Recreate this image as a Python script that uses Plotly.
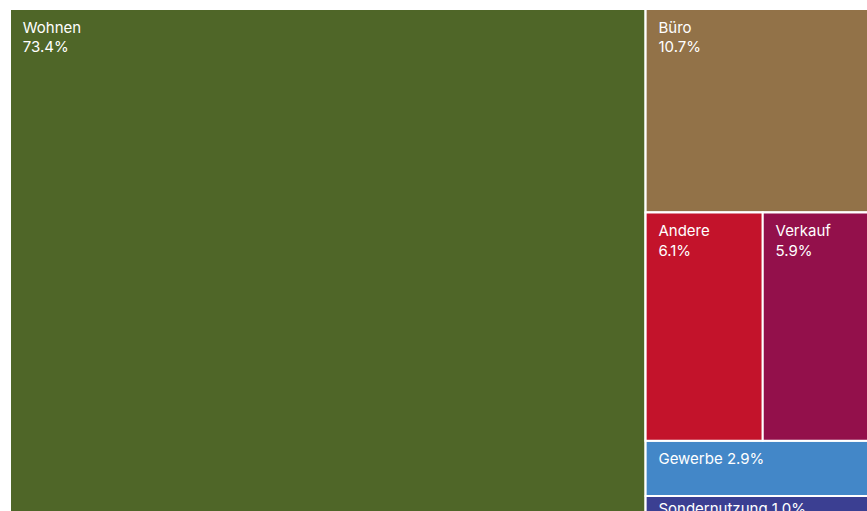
import plotly.graph_objects as go

# Nutzungsarten und ihre Anteile (in %)
labels = ["Wohnen", "Büro", "Andere", "Verkauf", "Gewerbe", "Sondernutzung"]
shares = [73.4, 10.7, 6.1, 5.9, 2.9, 1.0]
colors = ["#4f6628", "#927248", "#c3132b", "#93104b", "#4387c8", "#3b3f92"]

# Gruppierung für die Anordnung: Wohnen links, übrige Nutzungen rechts gestapelt,
# Andere und Verkauf nebeneinander
groups = {"Nichtwohnen": "", "Andere/Verkauf": "Nichtwohnen"}
member_of = {
    "Wohnen": "",
    "Büro": "Nichtwohnen",
    "Andere": "Andere/Verkauf",
    "Verkauf": "Andere/Verkauf",
    "Gewerbe": "Nichtwohnen",
    "Sondernutzung": "Nichtwohnen",
}

share_of = dict(zip(labels, shares))
color_of = dict(zip(labels, colors))


def group_total(g):
    total = 0.0
    for name, parent in member_of.items():
        if parent == g:
            total += share_of[name]
    for sub, parent in groups.items():
        if parent == g:
            total += group_total(sub)
    return total


order = ["Wohnen", "Nichtwohnen", "Büro", "Andere/Verkauf", "Andere", "Verkauf",
         "Gewerbe", "Sondernutzung"]

# unsichtbare Kopfzeile schiebt die Beschriftung etwas vom Kachelrand weg
lead = "<span style='font-size:1px'>\u00a0</span><br>"
indent = "\u00a0\u00a0\u200a"

ids, parents, values, fills, templates = [], [], [], [], []
for node in order:
    ids.append(node)
    if node in groups:
        parents.append(groups[node])
        values.append(group_total(node))
        fills.append("white")
        templates.append("")
    else:
        parents.append(member_of[node])
        v = share_of[node]
        values.append(v)
        fills.append(color_of[node])
        if v >= 5:
            templates.append(lead + indent + "%{label}<br>" + indent + "%{value:.1f}%")
        elif v >= 2:
            templates.append(lead + indent + "%{label} %{value:.1f}%")
        else:
            templates.append(indent + "%{label} %{value:.1f}%")

fig = go.Figure(
    go.Treemap(
        ids=ids,
        labels=[i if i not in groups else "" for i in ids],
        parents=parents,
        values=values,
        branchvalues="total",
        sort=False,
        marker=dict(colors=fills, line=dict(color="white", width=2),
                    pad=dict(t=0, l=0, r=0, b=0)),
        texttemplate=templates,
        textposition="top left",
        textfont=dict(family="Inter", size=15, color="white"),
        hoverinfo="skip",
        tiling=dict(packing="slice-dice", pad=0),
        pathbar=dict(visible=False),
    )
)

fig.update_layout(
    width=876,
    height=515,
    margin=dict(l=10, r=0, t=9, b=0),
    paper_bgcolor="white",
    showlegend=False,
    uniformtext=dict(minsize=15, mode="show"),
)

fig.write_html(
    "out.html",
    post_script="document.documentElement.style.overflow='hidden';"
                "document.body.style.overflow='hidden';document.body.style.margin='0';",
)
